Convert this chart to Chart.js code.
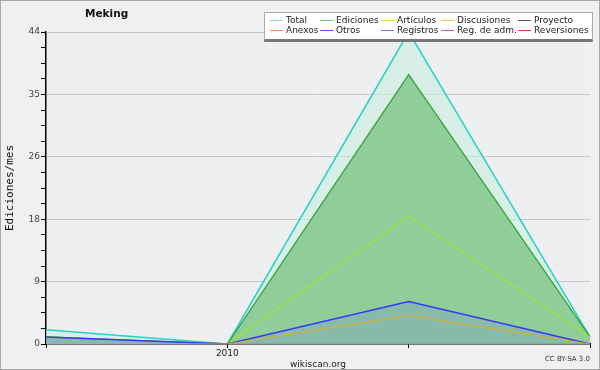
<!DOCTYPE html>
<html>
<head>
<meta charset="utf-8">
<script src="https://cdn.jsdelivr.net/npm/chart.js@4/dist/chart.umd.min.js"></script>
<style>
  html, body { margin: 0; padding: 0; background: #f0f0f0; }
  #wrap { position: relative; width: 600px; height: 370px; box-sizing: border-box; border: 1px solid #a8a8a8; background: #eff0f1; font-family: "DejaVu Sans", sans-serif; }
  #wrap canvas { position: absolute; left: -1px; top: -1px; }
  #title { position: absolute; left: 84px; top: 6px; font-size: 10.5px; font-weight: bold; color: #111; }
  #legend { position: absolute; left: 263px; top: 11px; width: 329px; height: 30px; background: #fff; border: 1px solid #aaa; border-bottom: 3px solid #777; box-sizing: border-box; font-size: 9px; color: #222; }
  #legend .it { position: absolute; white-space: nowrap; line-height: 10px; }
  #legend .it i { display: inline-block; width: 13px; height: 1px; vertical-align: middle; margin-right: 3px; }
  #credit { position: absolute; right: 9px; bottom: 6px; font-size: 7px; color: #333; }
</style>
</head>
<body>
<div id="wrap">
  <canvas id="c" width="600" height="370"></canvas>
  <div id="title">Meking</div>
  <div id="legend"></div>
  <div id="credit">CC BY-SA 3.0</div>
</div>
<script>
const labels = ['', '2010', '', ''];
const total = [2, 0, 44, 1];
const ediciones = [1, 0, 38, 1];
const articulos = [1, 0, 18, 1];
const registros = [1, 0, 6, 0];
const discusiones = [0, 0, 4, 0];
const yMax = 44;
const yTickLabels = ['0', '9', '18', '26', '35', '44'];

const legendItems = [
  ['Total', '#7fe0e0'], ['Ediciones', '#66cc66'], ['Artículos', '#ccee33'], ['Discusiones', '#ffcc33'], ['Proyecto', '#555555'],
  ['Anexos', '#ff8833'], ['Otros', '#8833ee'], ['Registros', '#7777ff'], ['Reg. de adm.', '#dd44ee'], ['Reversiones', '#ee3333']
];
const legendX = [5, 55, 116, 176, 253];
const legendEl = document.getElementById('legend');
legendItems.forEach((it, i) => {
  const d = document.createElement('div');
  d.className = 'it';
  d.style.left = legendX[i % 5] + 'px';
  d.style.top = (i < 5 ? 2 : 12) + 'px';
  d.innerHTML = '<i style="background:' + it[1] + '"></i>' + it[0];
  legendEl.appendChild(d);
});

const step = yMax / 20;
const plotBg = {
  id: 'plotBg',
  beforeDraw(chart) {
    const a = chart.chartArea, ctx = chart.ctx;
    ctx.save();
    ctx.fillStyle = '#eeeff1';
    ctx.fillRect(a.left, a.top, a.right - a.left, a.bottom - a.top);
    ctx.restore();
  }
};

new Chart(document.getElementById('c'), {
  type: 'line',
  data: {
    labels: labels,
    datasets: [
      { label: 'Discusiones', data: discusiones, borderColor: '#e0b020', borderWidth: 1, fill: false, pointRadius: 0, tension: 0 },
      { label: 'Registros', data: registros, borderColor: '#3838f0', borderWidth: 1.5, backgroundColor: 'rgba(120,150,200,0.35)', fill: 'origin', pointRadius: 0, tension: 0 },
      { label: 'Artículos', data: articulos, borderColor: '#aaee00', borderWidth: 1, fill: false, pointRadius: 0, tension: 0 },
      { label: 'Ediciones', data: ediciones, borderColor: '#30a030', borderWidth: 1.2, backgroundColor: 'rgba(130,200,140,0.85)', fill: 'origin', pointRadius: 0, tension: 0 },
      { label: 'Total', data: total, borderColor: '#28d0c8', borderWidth: 1.5, backgroundColor: 'rgba(200,238,225,0.6)', fill: 'origin', pointRadius: 0, tension: 0 }
    ]
  },
  options: {
    responsive: false,
    animation: false,
    layout: { padding: { left: 0, right: 10, top: 32, bottom: 0 } },
    plugins: { legend: { display: false }, tooltip: { enabled: false } },
    scales: {
      x: {
        offset: false,
        grid: { display: true, drawOnChartArea: false, color: '#000', tickLength: 4 },
        border: { color: '#000', width: 1.5 },
        ticks: { color: '#222', font: { family: 'DejaVu Sans', size: 9 }, padding: 0, maxRotation: 0, autoSkip: false },
        title: { display: true, text: 'wikiscan.org', color: '#222', font: { family: 'DejaVu Sans', size: 9 }, padding: { top: -1, bottom: 0 } },
        afterFit(s) { s.height = 26; }
      },
      y: {
        min: 0, max: yMax,
        afterBuildTicks(s) {
          const t = [];
          for (let i = 0; i <= 20; i++) t.push({ value: i * step });
          s.ticks = t;
        },
        grid: {
          color: c => (c.index % 4 === 0 && c.index > 0) ? '#c8c8c8' : 'rgba(0,0,0,0)',
          tickColor: '#000',
          tickLength: 5
        },
        border: { color: '#000', width: 1.5 },
        ticks: {
          color: '#444',
          font: { family: 'DejaVu Sans', size: 9 },
          padding: 1,
          autoSkip: false,
          callback: (v, i) => i % 4 === 0 ? yTickLabels[i / 4] : ''
        },
        title: { display: true, text: 'Ediciones/mes', color: '#111', font: { family: 'DejaVu Sans Mono', size: 11 }, padding: { top: 4, bottom: 4 } },
        afterFit(s) { s.width = 46; }
      }
    }
  },
  plugins: [plotBg]
});
</script>
</body>
</html>
